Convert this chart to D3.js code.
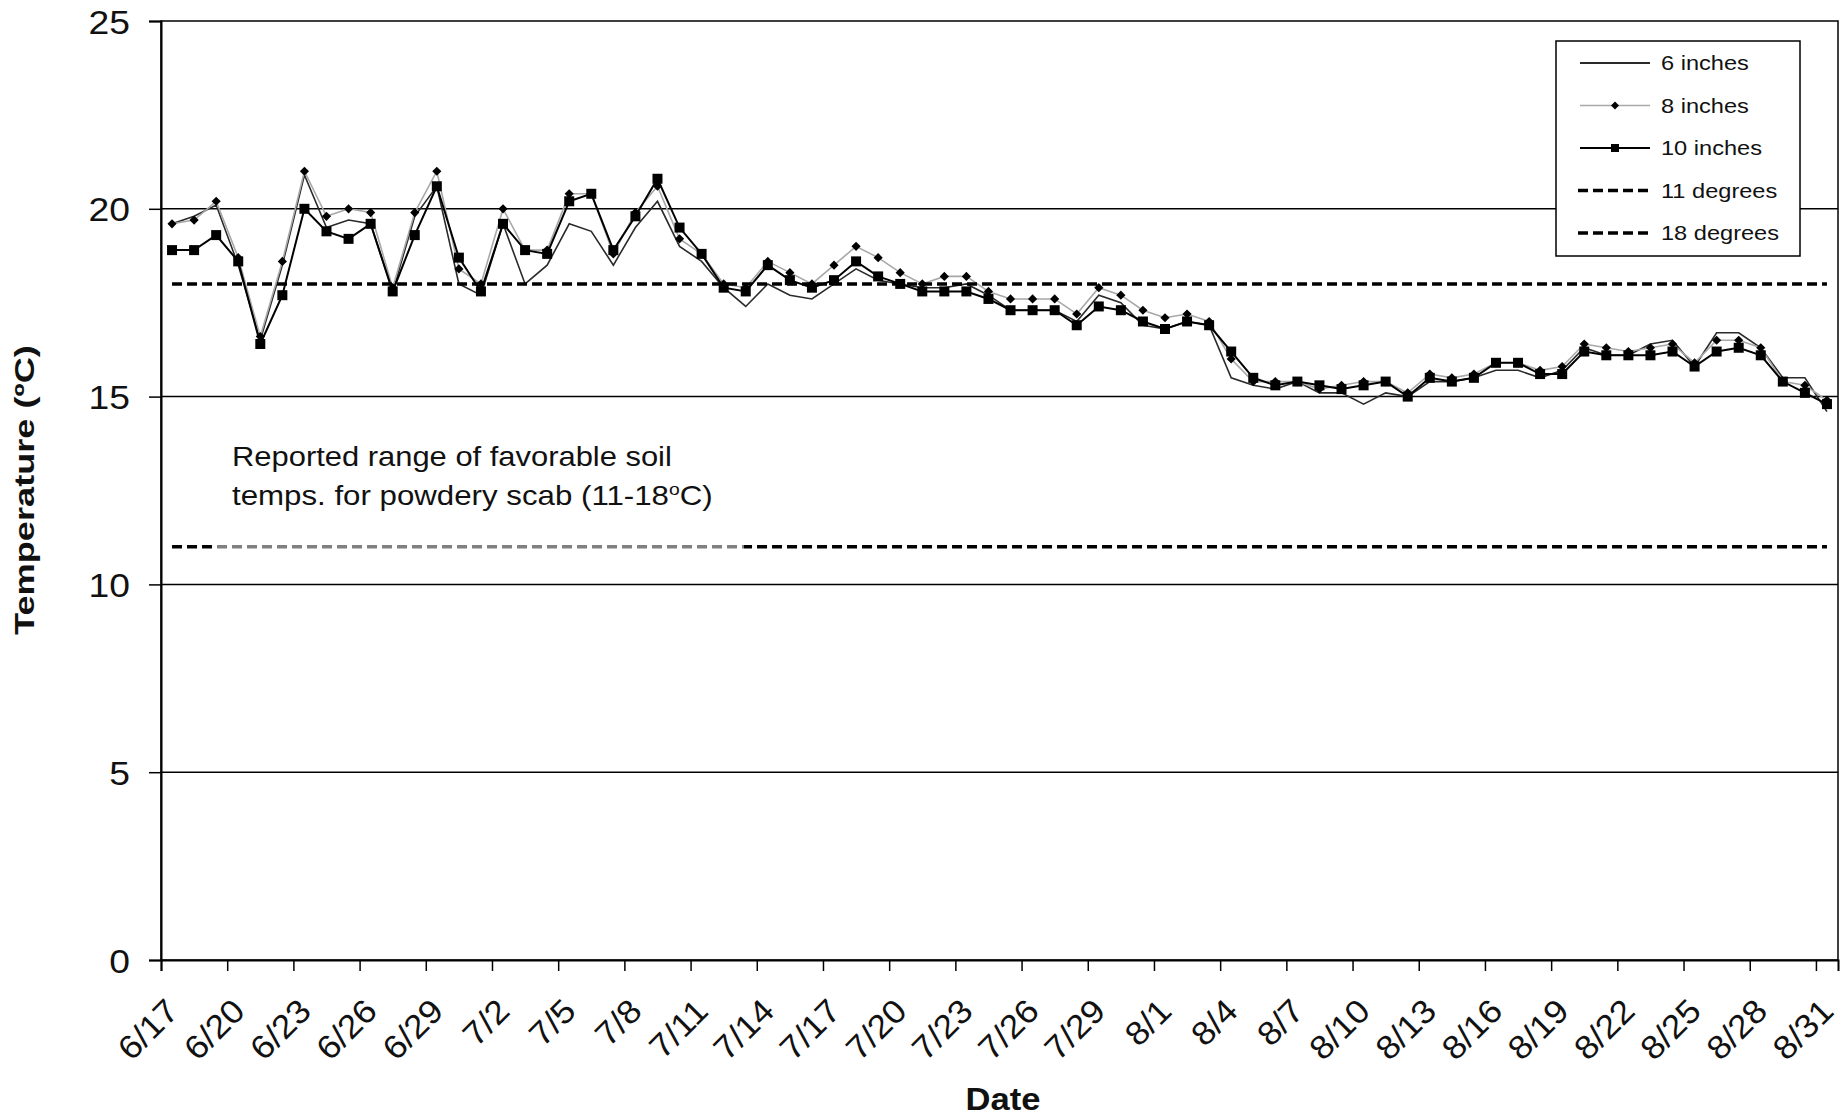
<!DOCTYPE html>
<html><head><meta charset="utf-8">
<script src="https://cdn.jsdelivr.net/npm/d3@7"></script>
<style>
body{margin:0;background:#fff}
svg{display:block}
text{font-family:"Liberation Sans",Arial,sans-serif;fill:#111}
</style>
</head><body>
<svg id="c" width="1844" height="1118"></svg>
<script>
const dates = ["6/17","6/18","6/19","6/20","6/21","6/22","6/23","6/24","6/25","6/26","6/27","6/28","6/29","6/30",
"7/1","7/2","7/3","7/4","7/5","7/6","7/7","7/8","7/9","7/10","7/11","7/12","7/13","7/14","7/15","7/16","7/17","7/18","7/19","7/20","7/21","7/22","7/23","7/24","7/25","7/26","7/27","7/28","7/29","7/30","7/31",
"8/1","8/2","8/3","8/4","8/5","8/6","8/7","8/8","8/9","8/10","8/11","8/12","8/13","8/14","8/15","8/16","8/17","8/18","8/19","8/20","8/21","8/22","8/23","8/24","8/25","8/26","8/27","8/28","8/29","8/30","8/31"];

const inches6 = [19.6,19.8,20.1,18.5,16.5,18.5,20.9,19.5,19.7,19.6,17.8,19.8,20.6,18.0,17.7,19.6,18.0,18.5,19.6,19.4,
18.5,19.5,20.2,19.0,18.6,17.9,17.4,18.0,17.7,17.6,18.0,18.4,18.1,18.0,17.9,17.9,18.0,17.7,17.3,17.3,
17.3,17.0,17.7,17.5,16.9,16.8,17.0,16.9,15.5,15.3,15.2,15.4,15.1,15.1,14.8,15.1,15.0,15.4,15.4,15.5,
15.7,15.7,15.5,15.7,16.3,16.1,16.1,16.4,16.5,15.8,16.7,16.7,16.3,15.5,15.5,14.6];

const inches8 = [19.6,19.7,20.2,18.7,16.6,18.6,21.0,19.8,20.0,19.9,17.9,19.9,21.0,18.4,18.0,20.0,18.9,18.9,20.4,20.4,
18.8,19.9,20.6,19.2,18.8,18.0,17.9,18.6,18.3,18.0,18.5,19.0,18.7,18.3,18.0,18.2,18.2,17.8,17.6,17.6,
17.6,17.2,17.9,17.7,17.3,17.1,17.2,17.0,16.0,15.4,15.4,15.4,15.2,15.3,15.4,15.4,15.1,15.6,15.5,15.6,
15.9,15.9,15.7,15.8,16.4,16.3,16.2,16.3,16.4,15.9,16.5,16.5,16.3,15.4,15.3,14.9];

const inches10 = [18.9,18.9,19.3,18.6,16.4,17.7,20.0,19.4,19.2,19.6,17.8,19.3,20.6,18.7,17.8,19.6,18.9,18.8,20.2,20.4,
18.9,19.8,20.8,19.5,18.8,17.9,17.8,18.5,18.1,17.9,18.1,18.6,18.2,18.0,17.8,17.8,17.8,17.6,17.3,17.3,
17.3,16.9,17.4,17.3,17.0,16.8,17.0,16.9,16.2,15.5,15.3,15.4,15.3,15.2,15.3,15.4,15.0,15.5,15.4,15.5,
15.9,15.9,15.6,15.6,16.2,16.1,16.1,16.1,16.2,15.8,16.2,16.3,16.1,15.4,15.1,14.8];

const thresholds = [11, 18];
const yTicks = [0, 5, 10, 15, 20, 25];
const gridValues = [5, 10, 15, 20];
const legendLabels = ["6 inches", "8 inches", "10 inches", "11 degrees", "18 degrees"];
const xTitle = "Date";
const yTitle = "Temperature  (ºC)";
const noteLine1 = "Reported range of favorable soil";
const noteLine2a = "temps. for powdery scab (11-18";
const noteLine2b = "o";
const noteLine2c = "C)";

const svg = d3.select("#c");
const L = 161, R = 1838, T = 21, B = 960;
const n = dates.length;
const xi = d3.scaleLinear().domain([0, n]).range([L, R]);
const y = d3.scaleLinear().domain([0, 25]).range([B, T]);
const cx = i => xi(i + 0.5);

function stretch(sel, k) {
  sel.each(function () {
    const t = d3.select(this);
    const base = t.attr("data-base") || "";
    t.attr("transform", base + " scale(" + k + ",1)");
  });
}
function fitWidth(sel, target) {
  sel.each(function () {
    const t = d3.select(this);
    const w = this.getComputedTextLength();
    const base = t.attr("data-base") || "";
    t.attr("transform", base + " scale(" + (target / w) + ",1)");
  });
}

// gridlines
svg.append("g").selectAll("line").data(gridValues).join("line")
  .attr("x1", L).attr("x2", R).attr("y1", d => y(d)).attr("y2", d => y(d))
  .attr("stroke", "#000").attr("stroke-width", 1.5);

// plot border
svg.append("rect").attr("x", L).attr("y", T).attr("width", R - L).attr("height", B - T)
  .attr("fill", "none").attr("stroke", "#000").attr("stroke-width", 1.5);

// y axis
const yAxis = svg.append("g").attr("transform", `translate(${L},0)`)
  .call(d3.axisLeft(y).tickValues(yTicks).tickSize(12).tickPadding(19));
yAxis.select(".domain").attr("stroke", "#000").attr("stroke-width", 2);
yAxis.selectAll(".tick line").attr("stroke", "#000").attr("stroke-width", 1.5);
yAxis.selectAll(".tick text").attr("font-size", 33).attr("fill", "#111")
  .attr("font-family", "Liberation Sans, Arial, sans-serif")
  .attr("x", null).attr("dy", null)
  .attr("data-base", "translate(-31,12)")
  .call(stretch, 1.13);

// x axis
const xTickIdx = d3.range(0, n, 3);
const xAxis = svg.append("g").attr("transform", `translate(0,${B})`)
  .call(d3.axisBottom(xi).tickValues(xTickIdx).tickFormat(i => dates[i]).tickSize(11));
xAxis.select(".domain").attr("stroke", "#000").attr("stroke-width", 2);
xAxis.selectAll(".tick line").attr("stroke", "#000").attr("stroke-width", 1.5);
xAxis.selectAll(".tick text").attr("font-size", 33).attr("fill", "#111")
  .attr("font-family", "Liberation Sans, Arial, sans-serif")
  .attr("text-anchor", "end").attr("y", null).attr("dy", null)
  .attr("data-base", "translate(19,53) rotate(-45)")
  .call(stretch, 1.08);

// series lines
const line = d3.line().x((d, i) => cx(i)).y(d => y(d));
svg.append("path").datum(inches6).attr("d", line).attr("fill", "none")
  .attr("stroke", "#2a2a2a").attr("stroke-width", 1.6);
svg.append("path").datum(inches8).attr("d", line).attr("fill", "none")
  .attr("stroke", "#a8a8a8").attr("stroke-width", 1.6);
svg.append("path").datum(inches10).attr("d", line).attr("fill", "none")
  .attr("stroke", "#000").attr("stroke-width", 2);

const diamond = d3.symbol(d3.symbolSquare, 42);
const square = d3.symbol(d3.symbolSquare, 100);
svg.append("g").selectAll("path").data(inches8).join("path")
  .attr("d", diamond)
  .attr("transform", (d, i) => `translate(${cx(i)},${y(d)}) rotate(45)`)
  .attr("fill", "#000");
svg.append("g").selectAll("path").data(inches10).join("path")
  .attr("d", square)
  .attr("transform", (d, i) => `translate(${cx(i)},${y(d)})`)
  .attr("fill", "#000");

// threshold dashed lines
svg.append("g").selectAll("line").data(thresholds).join("line")
  .attr("x1", cx(0)).attr("x2", cx(n - 1))
  .attr("y1", d => y(d)).attr("y2", d => y(d))
  .attr("stroke", "#000").attr("stroke-width", 3.5).attr("stroke-dasharray", "10,5");

// semi-transparent text box over part of the 11 line
svg.append("rect").attr("x", 216).attr("y", 430).attr("width", 528).attr("height", 130)
  .attr("fill", "#fff").attr("opacity", 0.5);

// annotation
svg.append("text").attr("font-size", 27.5)
  .attr("data-base", "translate(232,466)").text(noteLine1)
  .call(fitWidth, 440);
const t2 = svg.append("text").attr("font-size", 27.5).attr("data-base", "translate(232,505)");
t2.append("tspan").text(noteLine2a);
t2.append("tspan").attr("font-size", 17).attr("dy", -10).text(noteLine2b);
t2.append("tspan").attr("dy", 10).text(noteLine2c);
t2.call(fitWidth, 481);

// axis titles
svg.append("text").attr("font-size", 32).attr("font-weight", "bold").attr("text-anchor", "middle")
  .attr("data-base", "translate(1003,1110)").text(xTitle).call(fitWidth, 75);
svg.append("text").attr("font-size", 27).attr("font-weight", "bold").attr("text-anchor", "middle")
  .attr("data-base", "translate(34,490) rotate(-90)").text(yTitle).call(fitWidth, 290);

// legend
const lg = svg.append("g");
lg.append("rect").attr("x", 1556).attr("y", 41).attr("width", 244).attr("height", 215)
  .attr("fill", "#fff").attr("stroke", "#000").attr("stroke-width", 1.5);
const rowY = d3.scalePoint().domain(legendLabels).range([63, 233]);
const lx1 = 1580, lx2 = 1650, lmid = 1615;
lg.append("line").attr("x1", lx1).attr("x2", lx2).attr("y1", rowY(legendLabels[0])).attr("y2", rowY(legendLabels[0]))
  .attr("stroke", "#2a2a2a").attr("stroke-width", 1.8);
lg.append("line").attr("x1", lx1).attr("x2", lx2).attr("y1", rowY(legendLabels[1])).attr("y2", rowY(legendLabels[1]))
  .attr("stroke", "#a8a8a8").attr("stroke-width", 1.5);
lg.append("path").attr("d", d3.symbol(d3.symbolSquare, 32))
  .attr("transform", `translate(${lmid},${rowY(legendLabels[1])}) rotate(45)`).attr("fill", "#000");
lg.append("line").attr("x1", lx1).attr("x2", lx2).attr("y1", rowY(legendLabels[2])).attr("y2", rowY(legendLabels[2]))
  .attr("stroke", "#000").attr("stroke-width", 2.2);
lg.append("path").attr("d", d3.symbol(d3.symbolSquare, 64))
  .attr("transform", `translate(${lmid},${rowY(legendLabels[2])})`).attr("fill", "#000");
[3, 4].forEach(k => {
  lg.append("line").attr("x1", lx1 - 2).attr("x2", lx2 + 2).attr("y1", rowY(legendLabels[k])).attr("y2", rowY(legendLabels[k]))
    .attr("stroke", "#000").attr("stroke-width", 3.5).attr("stroke-dasharray", "10,5");
});
lg.selectAll("text.lbl").data(legendLabels).join("text").attr("class", "lbl")
  .attr("font-size", 20).attr("fill", "#222")
  .attr("data-base", d => `translate(1661,${rowY(d) + 7})`).text(d => d)
  .call(stretch, 1.18);
</script>
</body></html>
